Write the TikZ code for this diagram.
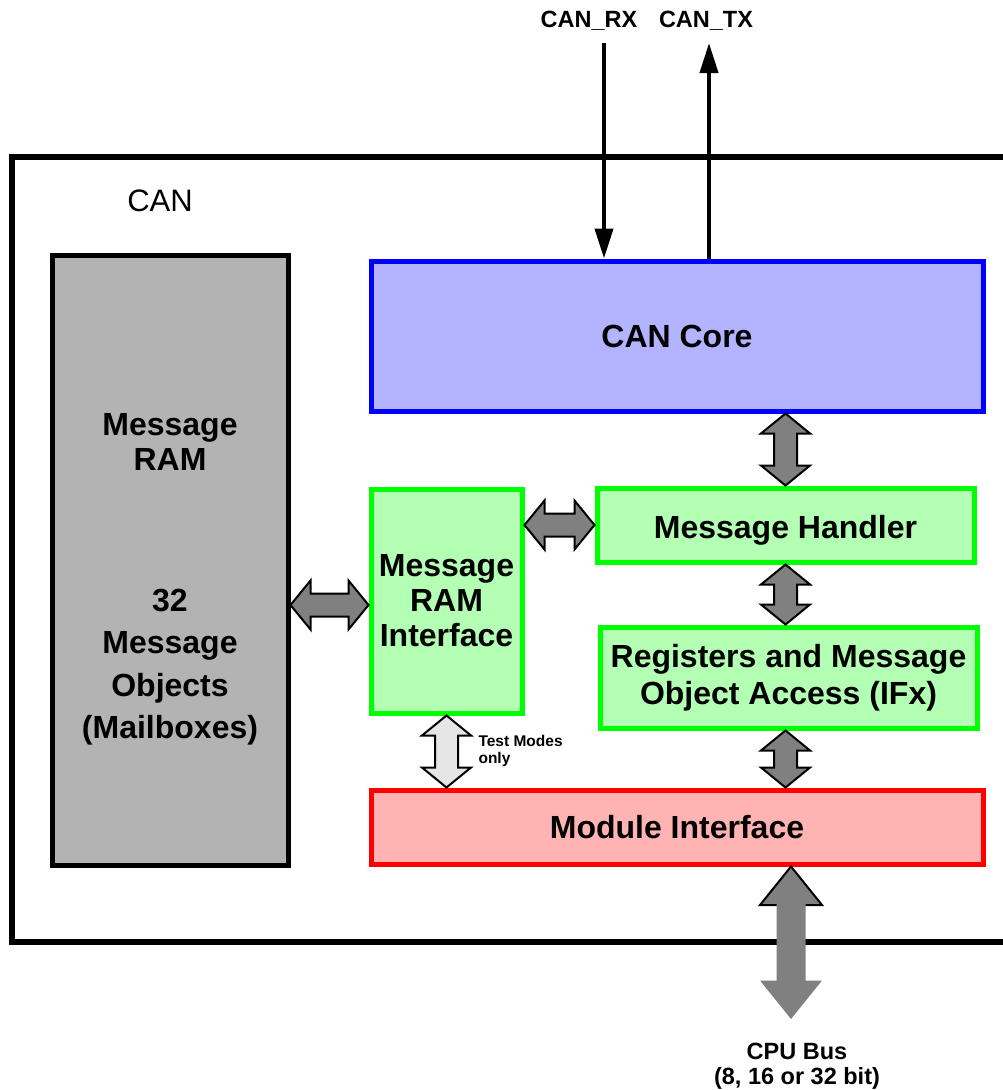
\documentclass[tikz,border=0pt]{standalone}
\usepackage{fontspec}
\setmainfont{Liberation Sans}
\usetikzlibrary{calc,arrows.meta}
\definecolor{coreblue}{RGB}{0,0,255}
\definecolor{corefill}{RGB}{179,179,255}
\definecolor{unitgreen}{RGB}{0,255,0}
\definecolor{unitfill}{RGB}{179,255,179}
\definecolor{ifred}{RGB}{255,0,0}
\definecolor{iffill}{RGB}{255,179,179}
\definecolor{ramgray}{RGB}{179,179,179}
\definecolor{busgray}{RGB}{128,128,128}
\definecolor{testgray}{RGB}{230,230,230}
\newcommand{\arrhl}{20pt}
\newcommand{\arrhw}{24.5pt}
\newcommand{\arrsw}{11.5pt}
% fat two-headed arrow from #2 to #3
\newcommand{\biarrow}[3][]{%
  \draw[blockarrow, #1] (#2)
    -- ($(#2)!\arrhl!(#3)!\arrhw!90:(#3)$)
    -- ($(#2)!\arrhl!(#3)!\arrsw!90:(#3)$)
    -- ($(#3)!\arrhl!(#2)!\arrsw!-90:(#2)$)
    -- ($(#3)!\arrhl!(#2)!\arrhw!-90:(#2)$)
    -- (#3)
    -- ($(#3)!\arrhl!(#2)!\arrhw!90:(#2)$)
    -- ($(#3)!\arrhl!(#2)!\arrsw!90:(#2)$)
    -- ($(#2)!\arrhl!(#3)!\arrsw!-90:(#3)$)
    -- ($(#2)!\arrhl!(#3)!\arrhw!-90:(#3)$)
    -- cycle;}
\tikzset{
  unit/.style={draw, line width=5pt, align=center,
    font=\bfseries\fontsize{32}{35}\selectfont},
  blockarrow/.style={draw, line width=2pt, fill=busgray, line join=miter},
  sigtext/.style={font=\bfseries\fontsize{23.5}{23.5}\selectfont, align=center}
}

\begin{document}
\begin{tikzpicture}[x=1pt, y=-1pt]
  \useasboundingbox (0,0) rectangle (1003,1090);

  % Module frame, open to the right
  \draw[line width=6pt] (1010,157) -- (12,157) -- (12,942) -- (1010,942);
  \node[font=\fontsize{31}{35}\selectfont] (canlabel) at (160,201) {CAN};

  % Units
  \node[unit, fill=ramgray, minimum width=236pt, minimum height=610pt] (ram) at (170,560) {};
  \node[align=center, font=\bfseries\fontsize{32}{35}\selectfont] (ramtitle) at (170,441.5) {Message\\RAM};
  \node[align=center, font=\bfseries\fontsize{32}{42.5}\selectfont] (ramobjs) at (170,667) {32\\Message\\Objects\\(Mailboxes)};

  \node[unit, draw=coreblue, fill=corefill, minimum width=612pt, minimum height=150pt] (core) at (677,336) {CAN Core};
  \node[unit, draw=unitgreen, fill=unitfill, minimum width=151pt, minimum height=224pt] (mri) at (446.5,601) {Message\\RAM\\Interface};
  \node[unit, draw=unitgreen, fill=unitfill, minimum width=377pt, minimum height=74pt,
    text height=27pt, text depth=0pt] (handler) at (785.5,525) {Message Handler};
  \node[unit, draw=unitgreen, fill=unitfill, minimum width=377pt, minimum height=101pt,
    font=\bfseries\fontsize{32}{36.5}\selectfont] (regs) at (788.5,677.5) {Registers and Message\\Object Access (IFx)};
  \node[unit, draw=ifred, fill=iffill, minimum width=612pt, minimum height=74pt] (mif) at (677,827) {Module Interface};

  % CAN pins
  \coordinate (rxin) at (604,43);
  \coordinate (txout) at (709,43);
  \node[sigtext] (rxlabel) at (589,21) {CAN\_RX};
  \node[sigtext] (txlabel) at (706,21) {CAN\_TX};
  \draw[line width=4pt, -{Triangle[width=18pt,length=30pt]}] (rxin) -- (rxin |- core.north);
  \draw[line width=4pt, -{Triangle[width=18pt,length=30pt]}] (txout |- core.north) -- (txout);

  % Internal data paths
  \coordinate (c1) at (handler.north |- core.south);
  \coordinate (h1) at (handler.north);
  \coordinate (h2) at (handler.south);
  \coordinate (r1) at (handler.south |- regs.north);
  \coordinate (r2) at (handler.south |- regs.south);
  \coordinate (m1) at (handler.south |- mif.north);
  \foreach \a/\b in {c1/h1, h2/r1, r2/m1}
    \biarrow{\a}{\b};

  \coordinate (i1) at (mri.east |- handler.west);
  \coordinate (i2) at (handler.west);
  \biarrow{i1}{i2};
  \coordinate (o1) at (ram.east |- 0,605);
  \coordinate (o2) at (mri.west |- 0,605);
  \biarrow{o1}{o2};

  % Test mode path
  \coordinate (t1) at (mri.south);
  \coordinate (t2) at (mri.south |- mif.north);
  \biarrow[fill=testgray]{t1}{t2};
  \node[anchor=west, align=left, font=\bfseries\fontsize{15.5}{17}\selectfont] (testlabel) at (475,751) {Test Modes\\only};

  % CPU bus
  \coordinate (bb) at (791,1019);
  \coordinate (bt) at (bb |- mif.south);
  \begin{scope}
    \renewcommand{\arrhl}{38.5pt}
    \renewcommand{\arrhw}{31pt}
    \renewcommand{\arrsw}{14.5pt}
    \biarrow[draw=none]{bt}{bb};
    \draw[line width=2pt, line join=miter] ($(bt)!\arrhl!(bb)!\arrsw!90:(bb)$)
      -- ($(bt)!\arrhl!(bb)!\arrhw!90:(bb)$) -- (bt)
      -- ($(bt)!\arrhl!(bb)!\arrhw!-90:(bb)$) -- ($(bt)!\arrhl!(bb)!\arrsw!-90:(bb)$);
  \end{scope}
  \node[sigtext, font=\bfseries\fontsize{23.5}{24.5}\selectfont] (buslabel) at (797,1066) {CPU Bus\\(8, 16 or 32 bit)};
\end{tikzpicture}
\end{document}
